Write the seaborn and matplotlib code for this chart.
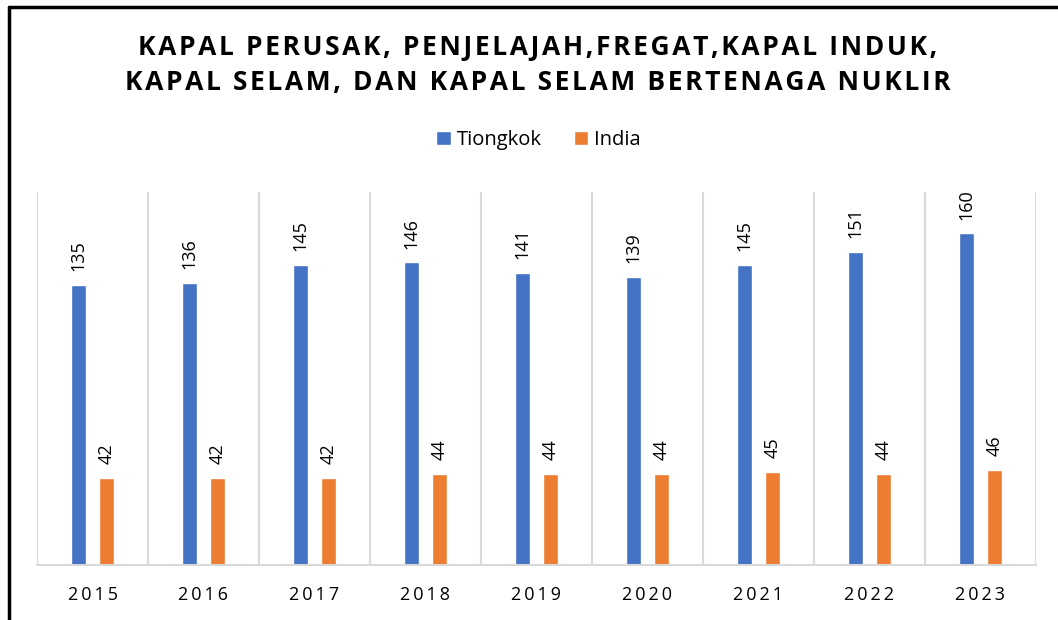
import matplotlib
matplotlib.use("Agg")
import matplotlib.pyplot as plt
import seaborn as sns
import pandas as pd
from matplotlib.lines import Line2D

# data
years = ["2015", "2016", "2017", "2018", "2019", "2020", "2021", "2022", "2023"]
tiongkok = [135, 136, 145, 146, 141, 139, 145, 151, 160]
india = [42, 42, 42, 44, 44, 44, 45, 44, 46]
series_names = ["Tiongkok", "India"]
colors = ["#4472C4", "#ED7D31"]

title_lines = ["KAPAL PERUSAK, PENJELAJAH,FREGAT,KAPAL INDUK,",
               "KAPAL SELAM, DAN KAPAL SELAM BERTENAGA NUKLIR"]


def spaced(text, sp="\u2009"):
    """fake letter spacing"""
    return sp.join(text)


df = pd.DataFrame({
    "Tahun": years * 2,
    "Jumlah": tiongkok + india,
    "Negara": [series_names[0]] * len(years) + [series_names[1]] * len(years),
})

sns.set_style("white")
plt.rcParams["font.family"] = ["Open Sans", "DejaVu Sans"]
plt.rcParams["text.color"] = "black"
plt.rcParams["xtick.color"] = "black"

fig = plt.figure(figsize=(10.58, 6.2), dpi=100)
ax = fig.add_axes([0.035, 0.0887, 0.944, 0.6016])

sns.barplot(data=df, x="Tahun", y="Jumlah", hue="Negara", palette=colors,
            saturation=1, width=0.5, gap=0.46, ax=ax, legend=True)

for cont in ax.containers:
    ax.bar_label(cont, rotation=90, padding=10, fontsize=13, color="black")

ax.set_ylim(0, 180)
ax.set_xlim(-0.5, len(years) - 0.5)
ax.set_yticks([])
ax.set_xlabel("")
ax.set_ylabel("")
ax.set_xticks(range(len(years)))
ax.set_xticklabels([spaced(y) for y in years], fontsize=13, color="black")
ax.tick_params(axis="x", length=0, pad=15)

# vertical separators between categories
ax.set_xticks([i - 0.5 for i in range(len(years) + 1)], minor=True)
ax.tick_params(axis="x", which="minor", length=0)
ax.grid(True, which="minor", axis="x", color="#d9d9d9", linewidth=1.5)
ax.grid(False, which="major")

for s in ["top", "left", "right"]:
    ax.spines[s].set_visible(False)
ax.spines["bottom"].set_color("#d9d9d9")
ax.spines["bottom"].set_linewidth(1.5)

handles, labels = ax.get_legend_handles_labels()
leg = ax.legend(handles, labels, loc="center", bbox_to_anchor=(0.509, 0.7742),
                bbox_transform=fig.transFigure, ncol=2, frameon=False,
                fontsize=14.5, handlelength=0.7, handleheight=0.7,
                handletextpad=0.3, columnspacing=1.6)
for t in leg.get_texts():
    t.set_color("black")

fig.text(0.508, 0.924, spaced(title_lines[0], "\u200a"), ha="center", va="center",
         fontsize=19, fontweight="bold", color="black")
fig.text(0.508, 0.867, spaced(title_lines[1], "\u200a"), ha="center", va="center",
         fontsize=19, fontweight="bold", color="black")

# border of the chart box (only left and top visible in the crop)
fig.add_artist(Line2D([0.0085, 0.0085], [0, 0.9887], color="black", linewidth=2.5,
                      transform=fig.transFigure))
fig.add_artist(Line2D([0.0085, 1.0], [0.9887, 0.9887], color="black", linewidth=2.5,
                      transform=fig.transFigure))

fig.savefig("out.png", dpi=100)
plt.close(fig)
